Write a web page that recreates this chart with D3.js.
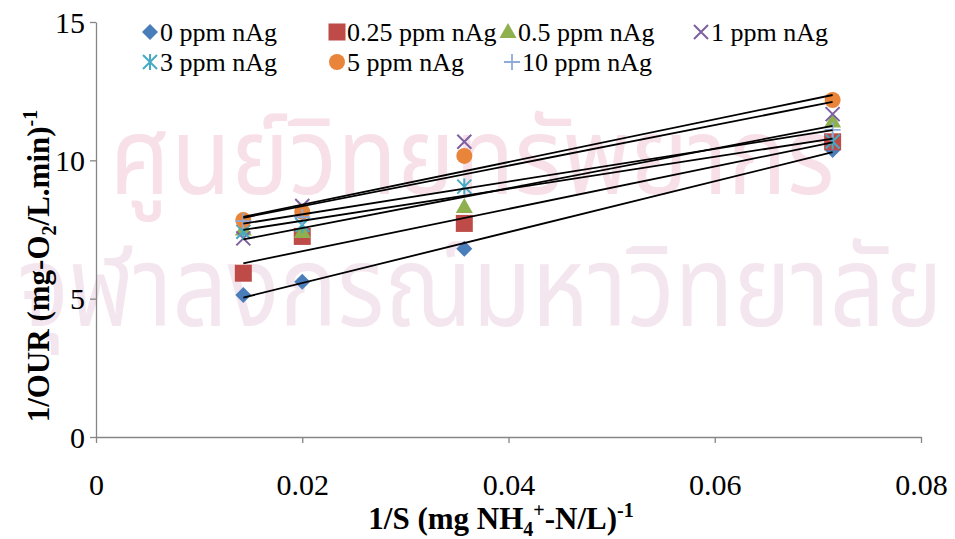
<!DOCTYPE html>
<html>
<head>
<meta charset="utf-8">
<script src="https://cdn.jsdelivr.net/npm/d3@7"></script>
<style>
  html, body { margin: 0; padding: 0; background: #fff; }
  svg { display: block; }
</style>
</head>
<body>
<svg id="chart" width="955" height="539"></svg>
<script>
// Reciprocal substrate concentration, 1/S (mg NH4+-N/L)^-1
const invS = [0.014286, 0.02, 0.035714, 0.071429];

// Reciprocal oxygen uptake rate, 1/OUR, for each silver dose
const seriesNames = ["0 ppm nAg", "0.25 ppm nAg", "0.5 ppm nAg", "1 ppm nAg",
                     "3 ppm nAg", "5 ppm nAg", "10 ppm nAg"];
const ag0    = [5.13, 5.61, 6.80, 10.37];
const ag025  = [5.92, 7.25, 7.72, 10.67];
const ag05   = [7.50, 7.41, 8.31, 11.40];
const ag1    = [7.18, 8.35, 10.67, 11.67];
const ag3    = [7.42, 7.66, 9.05, 10.68];
const ag5    = [7.84, 8.14, 10.16, 12.18];
const ag10   = [7.80, 7.95, null, 11.10];
const seriesValues = [ag0, ag025, ag05, ag1, ag3, ag5, ag10];

const markerShapes = ["diamond", "square", "triangle", "x", "asterisk", "circle", "plus"];
const markerColors = ["#4a7ebb", "#be4b48", "#8fb04e", "#7d60a0", "#46aac5", "#e8853a", "#8eaad8"];

const xTicks = [0, 0.02, 0.04, 0.06, 0.08];
const yTicks = [0, 5, 10, 15];

const svg = d3.select("#chart");
const serif = "'Liberation Serif', 'Times New Roman', serif";

const x = d3.scaleLinear().domain([0, 0.08]).range([96, 921]);
const y = d3.scaleLinear().domain([0, 15]).range([437, 22]);

// Background watermark lettering
const wm = svg.append("g")
  .attr("font-family", "'Noto Sans Thai', 'Noto Sans', 'DejaVu Sans', sans-serif")
  .attr("text-anchor", "middle");
wm.append("text").attr("x", 472).attr("y", 194).attr("font-size", 108).attr("fill", "#f7e0e8")
  .attr("textLength", 725).attr("lengthAdjust", "spacingAndGlyphs")
  .text("ศูนย์วิทยทรัพยากร");
wm.append("text").attr("x", 480).attr("y", 326).attr("font-size", 112).attr("fill", "#f4e6ee")
  .attr("textLength", 925).attr("lengthAdjust", "spacingAndGlyphs")
  .text("จุฬาลงกรณ์มหาวิทยาลัย");

// Axes
const axisColor = "#868686";
const xAxis = svg.append("g").attr("transform", `translate(0,${y(0)})`)
  .call(d3.axisBottom(x).tickValues(xTicks).tickSize(6).tickSizeOuter(0)
    .tickFormat(d => d === 0 ? "0" : d3.format(".2f")(d)));
const yAxis = svg.append("g").attr("transform", `translate(${x(0)},0)`)
  .call(d3.axisLeft(y).tickValues(yTicks).tickSize(6).tickSizeOuter(0));
[xAxis, yAxis].forEach(g => {
  g.select(".domain").attr("stroke", axisColor).attr("stroke-width", 1.3);
  g.selectAll(".tick line").attr("stroke", axisColor).attr("stroke-width", 1.3);
  g.selectAll(".tick text").attr("fill", "#000").attr("font-family", serif).attr("font-size", 30);
});
xAxis.selectAll(".tick text").attr("dy", null).attr("y", 58);
yAxis.selectAll(".tick text").attr("x", -11).attr("dy", "0.34em");

// Marker symbol generator
function drawMarker(g, shape, color, cx, cy) {
  const s = 8;
  if (shape === "diamond") {
    g.append("path").attr("d", `M${cx},${cy - s}L${cx + s},${cy}L${cx},${cy + s}L${cx - s},${cy}Z`).attr("fill", color);
  } else if (shape === "square") {
    g.append("rect").attr("x", cx - 8.5).attr("y", cy - 8.5).attr("width", 17).attr("height", 17).attr("fill", color);
  } else if (shape === "triangle") {
    g.append("path").attr("d", `M${cx},${cy - 9}L${cx + 8.5},${cy + 6}L${cx - 8.5},${cy + 6}Z`).attr("fill", color);
  } else if (shape === "circle") {
    g.append("circle").attr("cx", cx).attr("cy", cy).attr("r", 8).attr("fill", color);
  } else if (shape === "x") {
    g.append("path").attr("d", `M${cx - 7},${cy - 7}L${cx + 7},${cy + 7}M${cx - 7},${cy + 7}L${cx + 7},${cy - 7}`)
      .attr("stroke", color).attr("stroke-width", 2).attr("fill", "none");
  } else if (shape === "asterisk") {
    g.append("path").attr("d", `M${cx - 7},${cy - 7}L${cx + 7},${cy + 7}M${cx - 7},${cy + 7}L${cx + 7},${cy - 7}M${cx},${cy - 8}L${cx},${cy + 8}`)
      .attr("stroke", color).attr("stroke-width", 2).attr("fill", "none");
  } else if (shape === "plus") {
    g.append("path").attr("d", `M${cx - 8},${cy}L${cx + 8},${cy}M${cx},${cy - 8}L${cx},${cy + 8}`)
      .attr("stroke", color).attr("stroke-width", 1.8).attr("fill", "none");
  }
}

// Data markers
const markers = svg.append("g");
seriesValues.forEach((vals, i) => {
  vals.forEach((v, j) => {
    if (v == null) return;
    drawMarker(markers, markerShapes[i], markerColors[i], x(invS[j]), y(v));
  });
});

// Least-squares trendline for each series, spanning its own x range
function fit(vals) {
  const pts = vals.map((v, j) => [invS[j], v]).filter(p => p[1] != null);
  const mx = d3.mean(pts, p => p[0]), my = d3.mean(pts, p => p[1]);
  const sxy = d3.sum(pts, p => (p[0] - mx) * (p[1] - my));
  const sxx = d3.sum(pts, p => (p[0] - mx) ** 2);
  const b = sxy / sxx, a = my - b * mx;
  const [x0, x1] = d3.extent(pts, p => p[0]);
  return [[x0, a + b * x0], [x1, a + b * x1]];
}
const line = d3.line().x(d => x(d[0])).y(d => y(d[1]));
const trends = svg.append("g");
seriesValues.forEach(vals => {
  trends.append("path").attr("d", line(fit(vals)))
    .attr("stroke", "#000").attr("stroke-width", 1.8).attr("fill", "none");
});

// Legend in two rows
const legendPos = [[150, 32], [337, 32], [508, 32], [701, 32], [150, 62], [337, 62], [512, 62]];
const legend = svg.append("g");
seriesNames.forEach((name, i) => {
  const [lx, ly] = legendPos[i];
  drawMarker(legend, markerShapes[i], markerColors[i], lx, ly);
  legend.append("text").attr("x", lx + 10).attr("y", ly).attr("dy", "0.34em")
    .attr("font-family", serif).attr("font-size", 26).attr("fill", "#000").text(name);
});

// Axis titles
const xt = svg.append("text").attr("x", 501).attr("y", 529).attr("text-anchor", "middle")
  .attr("font-family", serif).attr("font-size", 31).attr("font-weight", "bold");
xt.append("tspan").text("1/S (mg NH");
xt.append("tspan").attr("font-size", 20).attr("dy", 7).text("4");
xt.append("tspan").attr("font-size", 20).attr("dy", -19).text("+");
xt.append("tspan").attr("dy", 12).text("-N/L)");
xt.append("tspan").attr("font-size", 20).attr("dy", -12).text("-1");

const yt = svg.append("text").attr("transform", "translate(49,266) rotate(-90)").attr("text-anchor", "middle")
  .attr("font-family", serif).attr("font-size", 31).attr("font-weight", "bold");
yt.append("tspan").text("1/OUR (mg-O");
yt.append("tspan").attr("font-size", 20).attr("dy", 7).text("2");
yt.append("tspan").attr("dy", -7).text("/L.min)");
yt.append("tspan").attr("font-size", 20).attr("dy", -12).text("-1");
</script>
</body>
</html>
